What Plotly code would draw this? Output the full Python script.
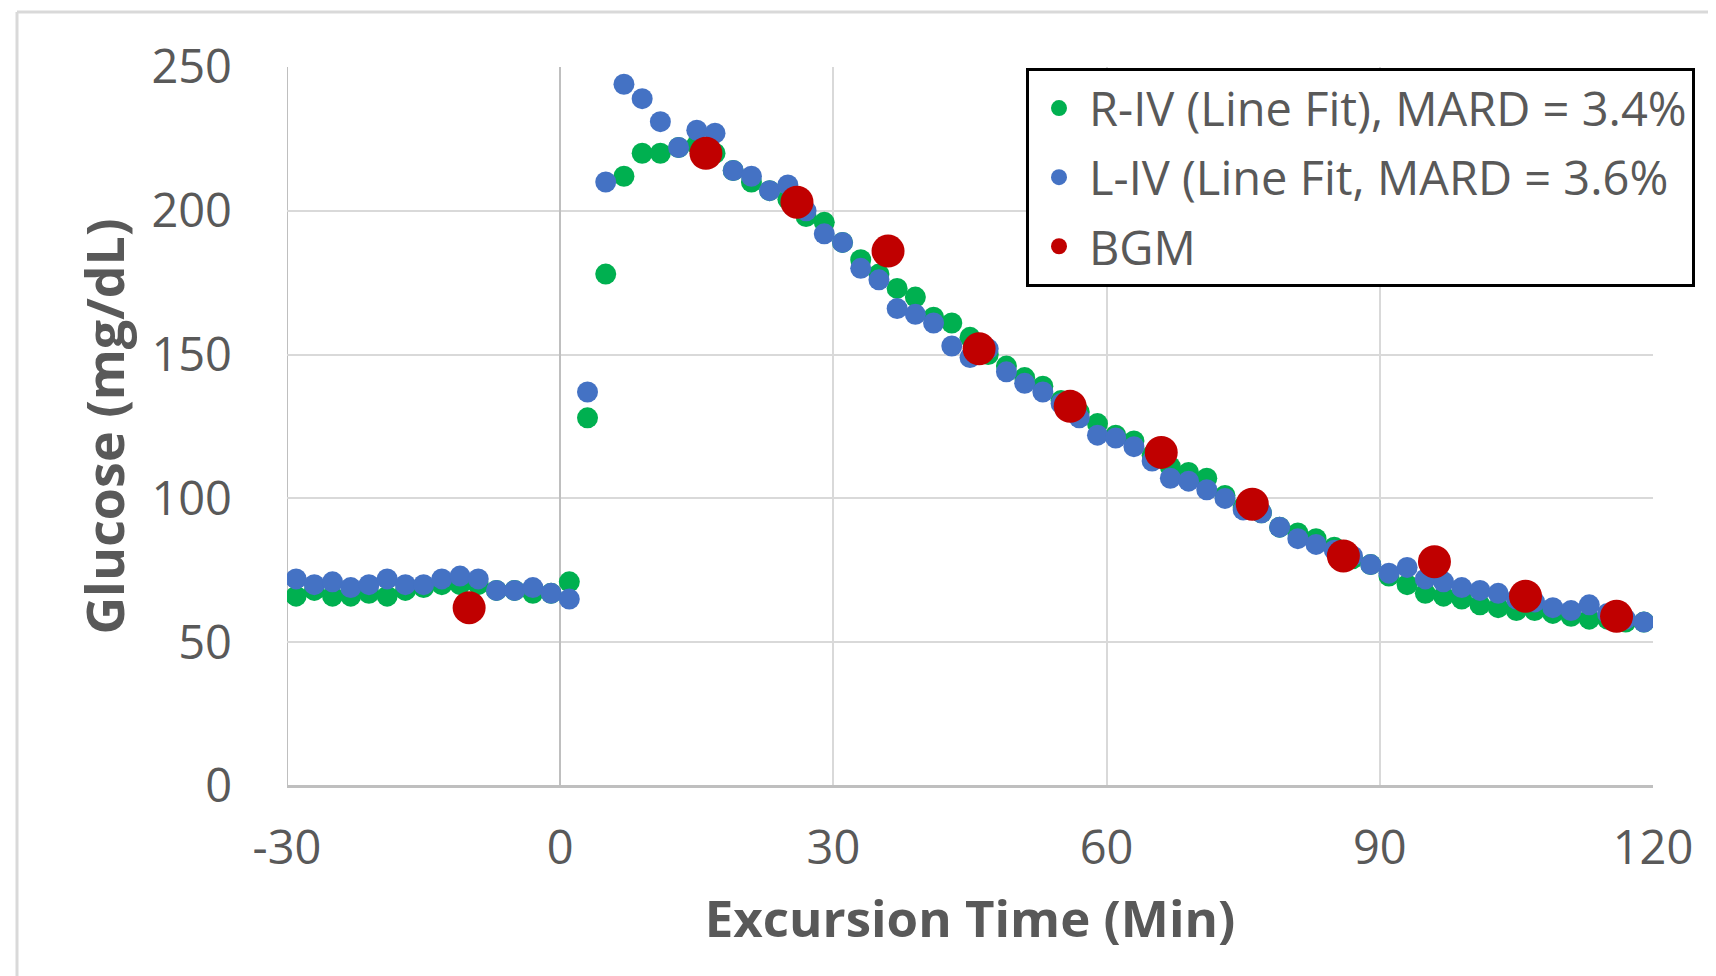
import plotly.graph_objects as go

times = list(range(-29, 120, 2))

r_iv = [66, 68, 66, 66, 67, 66, 68, 69, 70, 70, 70, 68, 68, 67, 67, 71,
        128, 178, 212, 220, 220, 222, 223, 220,
        214, 210, 207, 204, 198, 196, 189, 183, 178, 173, 170, 163, 161, 156,
        150, 146, 142, 139, 134, 130, 126, 122, 120, 115, 111, 109, 107, 101,
        97, 95, 90, 88, 86, 83, 79, 77, 73, 70, 67, 66, 65, 63, 62, 61, 61,
        60, 59, 58, 58, 57, 57]

l_iv = [72, 70, 71, 69, 70, 72, 70, 70, 72, 73, 72, 68, 68, 69, 67, 65,
        137, 210, 244, 239, 231, 222, 228, 227,
        214, 212, 207, 209, 200, 192, 189, 180, 176, 166, 164, 161, 153, 149,
        152, 144, 140, 137, 133, 128, 122, 121, 118, 113, 107, 106, 103, 100,
        96, 95, 90, 86, 84, 82, 80, 77, 74, 76, 72, 71, 69, 68, 67, 65, 64,
        62, 61, 63, 60, 58, 57]

bgm_times = [-10, 16, 26, 36, 46, 56, 66, 76, 86, 96, 106, 116]
bgm_vals = [62, 220, 203, 186, 152, 132, 116, 98, 80, 78, 66, 59]

x_ticks = [-30, 0, 30, 60, 90, 120]
y_ticks = [0, 50, 100, 150, 200, 250]

FONT = "Open Sans"
TXT = "#595959"

fig = go.Figure()
fig.add_trace(go.Scatter(x=times, y=r_iv, mode="markers",
                         name="R-IV (Line Fit), MARD = 3.4%", legendgroup="a",
                         marker=dict(color="#00B050", size=21)))
fig.add_trace(go.Scatter(x=times, y=l_iv, mode="markers",
                         name="L-IV (Line Fit, MARD = 3.6%", legendgroup="b",
                         marker=dict(color="#4472C4", size=21)))
fig.add_trace(go.Scatter(x=bgm_times, y=bgm_vals, mode="markers",
                         name="BGM", legendgroup="c",
                         marker=dict(color="#C00000", size=33)))

W, H = 1716, 976
L, R, T, B = 279, 71, 59, 198
pw, ph = W - L - R, H - T - B


def px(x):
    return (x - L) / pw


def py(y):
    return (H - B - y) / ph


fig.update_layout(
    width=W, height=H,
    margin=dict(l=L, r=R, t=T, b=B),
    paper_bgcolor="white", plot_bgcolor="white",
    font=dict(family=FONT, color=TXT),
    showlegend=True,
    legend=dict(
        x=px(1687), y=py(60), xanchor="right", yanchor="top",
        bgcolor="white", bordercolor="black", borderwidth=3,
        font=dict(size=47, color=TXT, family=FONT),
        itemsizing="trace", itemwidth=50, tracegroupgap=5,
    ),
    xaxis=dict(
        range=[-30, 120], tickvals=x_ticks, ticktext=[str(v) for v in x_ticks],
        showgrid=True, gridcolor="#D9D9D9", gridwidth=2,
        zeroline=True, zerolinecolor="#BFBFBF", zerolinewidth=2,
        showline=False,
        tickfont=dict(size=47, color=TXT),
        ticks="", ticklabelstandoff=30,
        title=dict(text="<b>Excursion Time (Min)</b>", font=dict(size=51, color=TXT), standoff=24),
    ),
    yaxis=dict(
        range=[0, 250], tickvals=y_ticks, ticktext=[str(v) for v in y_ticks],
        showgrid=True, gridcolor="#D9D9D9", gridwidth=2,
        zeroline=True, zerolinecolor="#BFBFBF", zerolinewidth=3,
        showline=False,
        tickfont=dict(size=47, color=TXT),
        ticks="", ticklabelstandoff=54,
        title=dict(text="<b>Glucose (mg/dL)</b>", font=dict(size=52, color=TXT), standoff=10),
    ),
    shapes=[
        dict(type="line", xref="x", yref="paper", x0=-30, x1=-30, y0=0, y1=1,
             line=dict(color="#BFBFBF", width=2), layer="below"),
        dict(type="line", xref="paper", yref="paper", x0=px(9), x1=px(W), y0=py(4), y1=py(4),
             line=dict(color="#D9D9D9", width=3)),
        dict(type="line", xref="paper", yref="paper", x0=px(9), x1=px(9), y0=py(4), y1=py(H),
             line=dict(color="#D9D9D9", width=3)),
    ],
)

fig.write_html("out.html")
